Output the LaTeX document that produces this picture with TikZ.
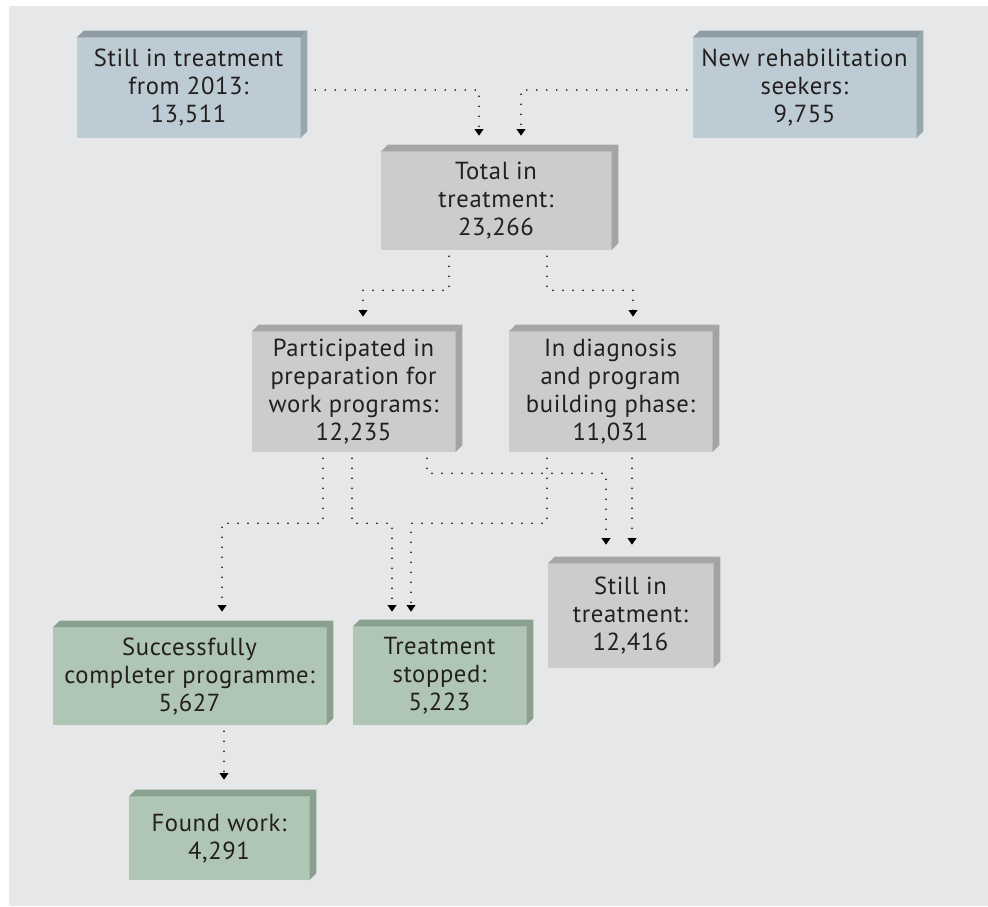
\documentclass[tikz,border=0pt]{standalone}
\usepackage{fontspec}
\setmainfont{PT Sans}[LetterSpace=2.5]
\usetikzlibrary{arrows.meta}
\definecolor{panel}{HTML}{E6E7E8}
\definecolor{ink}{HTML}{231F20}
\definecolor{faceblue}{HTML}{BDCCD4}
\definecolor{topblue}{HTML}{8E9DA5}
\definecolor{sideblue}{HTML}{97A7AF}
\definecolor{facegrey}{HTML}{CBCCCE}
\definecolor{topgrey}{HTML}{A5A6A8}
\definecolor{sidegrey}{HTML}{A2A3A5}
\definecolor{facegreen}{HTML}{B0C6B4}
\definecolor{topgreen}{HTML}{8AA190}
\definecolor{sidegreen}{HTML}{8B9F8F}
\tikzset{
  box/.style={fill=face#1, text=ink, align=center, inner sep=0pt,
    font=\fontsize{18.5}{21}\selectfont},
  flow/.style={draw=black, line width=1.2pt, line cap=round,
    dash pattern=on 0pt off 7.5pt, -{Triangle[width=6.5pt,length=5pt]}}
}
\begin{document}
\begin{tikzpicture}[x=0.75pt, y=-0.75pt]
    \useasboundingbox (0,0) rectangle (988,906);
    \fill[white] (0,0) rectangle (988,906);
    \fill[panel] (9,6) rectangle (988,906);

    \node[box=blue, minimum width=167.25pt, minimum height=75pt] (old) at (188.5,88)
        {Still in treatment\\from 2013:\\13,511};
    \node[box=blue, minimum width=167.25pt, minimum height=75pt] (new) at (804.5,88)
        {New rehabilitation\\seekers:\\9,755};
    \node[box=grey, minimum width=172.5pt, minimum height=73.5pt] (total) at (496,201)
        {Total in\\treatment:\\23,266};
    \node[box=grey, minimum width=152.25pt, minimum height=90pt] (prep) at (353.5,392)
        {Participated in\\preparation for\\work programs:\\12,235};
    \node[box=grey, minimum width=152.25pt, minimum height=90pt] (diag) at (610.5,392)
        {In diagnosis\\and program\\building phase:\\11,031};
    \node[box=grey, minimum width=123.75pt, minimum height=78pt] (still) at (630.5,616)
        {Still in\\treatment:\\12,416};
    \node[box=green, minimum width=204.75pt, minimum height=72.75pt] (done) at (189.5,676.5)
        {Successfully\\completer programme:\\5,627};
    \node[box=green, minimum width=129.75pt, minimum height=73.5pt] (stop) at (439.5,676)
        {Treatment\\stopped:\\5,223};
    \node[box=green, minimum width=135pt, minimum height=62.25pt] (work) at (219,838.5)
        {Found work:\\4,291};

    \foreach \n/\k in {old/blue, new/blue, total/grey, prep/grey, diag/grey,
                       still/grey, done/green, stop/green, work/green} {
        \fill[top\k] (\n.north west) -- ++(7,-7) -- ([shift={(7,-7)}]\n.north east)
            -- (\n.north east) -- cycle;
        \fill[side\k] (\n.north east) -- ++(7,-7) -- ([shift={(7,-7)}]\n.south east)
            -- (\n.south east) -- cycle;
    }

    \draw[flow] ([shift={(15,2)}]old.east) -| ([shift={(-17,-16)}]total.north);
    \draw[flow] ([shift={(-6,2)}]new.west) -| ([shift={(25,-16)}]total.north);

    \draw[flow] ([shift={(-47,6)}]total.south) -- ++(0,34) -| ([shift={(9.5,-15)}]prep.north);
    \draw[flow] ([shift={(51,6)}]total.south) -- ++(0,34) -| ([shift={(22.5,-15)}]diag.north);

    \draw[flow] ([shift={(-30.5,6)}]prep.south) -- ++(0,65) -| ([shift={(32.5,-16)}]done.north);
    \draw[flow] ([shift={(-1.5,6)}]prep.south) -- ++(0,65) -| ([shift={(-47.5,-15)}]stop.north);
    \draw[flow] ([shift={(73.5,6)}]prep.south) -- ++(0,15) -| ([shift={(-24.5,-19)}]still.north);
    \draw[flow] ([shift={(-63.5,6)}]diag.south) -- ++(0,65) -| ([shift={(-28.5,-15)}]stop.north);
    \draw[flow] ([shift={(21.5,6)}]diag.south) -- ([shift={(1.5,-19)}]still.north);

    \draw[flow] ([shift={(34.5,6)}]done.south) -- ([shift={(5,-17)}]work.north);
\end{tikzpicture}
\end{document}
